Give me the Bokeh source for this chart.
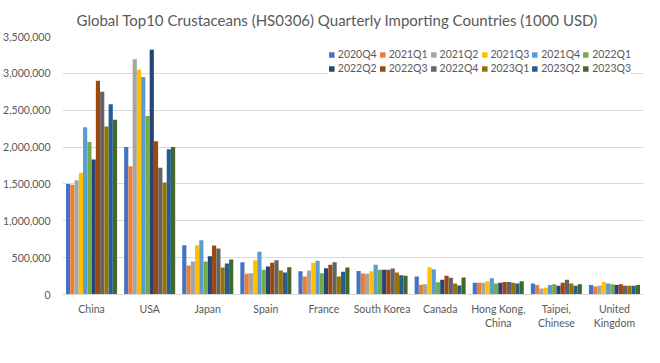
from bokeh.plotting import figure
from bokeh.models import FactorRange, Legend, LegendItem, NumeralTickFormatter, FixedTicker, ColumnDataSource, Range1d
from bokeh.transform import dodge
from bokeh.embed import file_html
from bokeh.resources import INLINE

countries = ["China", "USA", "Japan", "Spain", "France", "South Korea", "Canada",
             "Hong Kong,\nChina", "Taipei,\nChinese", "United\nKingdom"]
quarters = ["2020Q4", "2021Q1", "2021Q2", "2021Q3", "2021Q4", "2022Q1",
            "2022Q2", "2022Q3", "2022Q4", "2023Q1", "2023Q2", "2023Q3"]

# values per country, one per quarter (1000 USD)
china = [1500000, 1490000, 1550000, 1650000, 2270000, 2070000, 1830000, 2900000, 2750000, 2280000, 2580000, 2370000]
usa = [2000000, 1740000, 3190000, 3050000, 2950000, 2420000, 3320000, 2080000, 1720000, 1520000, 1970000, 2000000]
japan = [669000, 393000, 448000, 669000, 737000, 448000, 520000, 664000, 624000, 366000, 421000, 475000]
spain = [439000, 280000, 289000, 466000, 579000, 335000, 380000, 430000, 466000, 326000, 298000, 371000]
france = [317000, 244000, 326000, 430000, 457000, 289000, 357000, 403000, 439000, 244000, 308000, 366000]
south_korea = [320000, 285000, 280000, 317000, 403000, 335000, 335000, 335000, 353000, 298000, 262000, 253000]
canada = [244000, 131000, 140000, 371000, 344000, 167000, 200000, 253000, 226000, 149000, 122000, 230000]
hong_kong = [160000, 160000, 160000, 180000, 220000, 150000, 160000, 170000, 170000, 160000, 150000, 180000]
taipei = [150000, 130000, 80000, 90000, 130000, 140000, 120000, 160000, 200000, 150000, 120000, 140000]
uk = [130000, 110000, 120000, 170000, 150000, 140000, 130000, 140000, 120000, 120000, 120000, 130000]

colors = ["#4472C4", "#ED7D31", "#A5A5A5", "#FFC000", "#5B9BD5", "#70AD47",
          "#264478", "#9E480E", "#636363", "#997300", "#255E91", "#43682B"]

rows = [china, usa, japan, spain, france, south_korea, canada, hong_kong, taipei, uk]
data = {"country": countries}
for qi, q in enumerate(quarters):
    data[q] = [r[qi] for r in rows]
source = ColumnDataSource(data)

FONT = "Lato"
GREY = "#595959"

p = figure(frame_width=581, frame_height=258, x_range=FactorRange(*countries, range_padding=0),
           y_range=Range1d(0, 3500000), output_backend="svg", toolbar_location=None,
           min_border_left=55, min_border_right=8, min_border_top=10, min_border_bottom=0,
           title="Global Top10 Crustaceans (HS0306) Quarterly Importing Countries (1000 USD)")
p.x_range.range_padding = 0
p.title.align = "left"
p.title.offset = 14
p.title.standoff = 16
p.title.text_font = FONT
p.title.text_font_size = "15px"
p.title.text_font_style = "normal"
p.title.text_color = GREY
p.outline_line_color = None

n = len(quarters)
group = 0.88
bw = group / n
items = []
for i, q in enumerate(quarters):
    off = -group / 2 + bw * (i + 0.5)
    r = p.vbar(x=dodge("country", off, range=p.x_range), top=q, width=bw * 0.98,
               source=source, fill_color=colors[i], line_color=None)
    items.append(LegendItem(label=q, renderers=[r]))

p.yaxis.ticker = FixedTicker(ticks=[i * 500000 for i in range(8)])
p.yaxis.formatter = NumeralTickFormatter(format="0,0")
p.yaxis.axis_line_color = None
p.yaxis.major_tick_line_color = None
p.yaxis.minor_tick_line_color = None
p.yaxis.major_label_text_font = FONT
p.yaxis.major_label_text_font_size = "10.5px"
p.yaxis.major_label_text_color = GREY
p.yaxis.major_label_standoff = 6

p.xaxis.axis_line_color = "#D9D9D9"
p.xaxis.major_tick_line_color = None
p.xaxis.minor_tick_line_color = None
p.xaxis.major_tick_out = 0
p.xaxis.major_tick_in = 0
p.xaxis.major_label_text_font = FONT
p.xaxis.major_label_text_font_size = "10.5px"
p.xaxis.major_label_text_color = GREY
p.xaxis.major_label_standoff = 8

p.xgrid.grid_line_color = None
p.ygrid.grid_line_color = "#D9D9D9"

legend = Legend(items=items, orientation="horizontal", ncols=6, location="top_right",
                glyph_width=7, glyph_height=7, label_standoff=3, spacing=2,
                label_text_font=FONT, label_text_font_size="10.5px", label_text_color=GREY,
                border_line_color=None, background_fill_color="white", background_fill_alpha=1,
                padding=2, margin=12, label_height=12)
p.add_layout(legend, "center")

open("out.html", "w").write(file_html(p, INLINE))
